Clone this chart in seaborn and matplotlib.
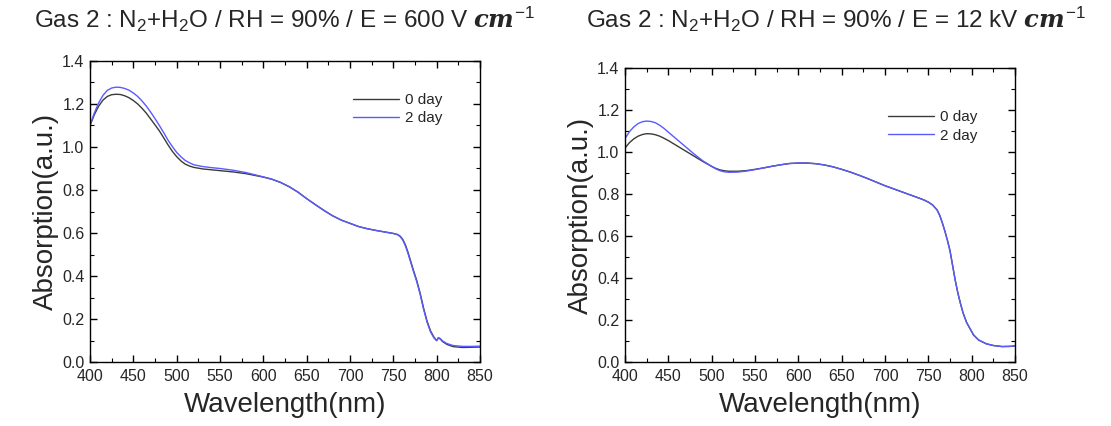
import pandas as pd
import seaborn as sns
import matplotlib.pyplot as plt
from matplotlib.ticker import MultipleLocator

# Panel 1 : E = 600 V cm-1
wl_600 = [400, 405, 410, 415, 420, 425, 430, 435, 440, 445, 450, 455, 460, 465, 470, 475,
          480, 485, 490, 495, 500, 505, 510, 515, 520, 530, 540, 550, 565, 580, 600, 610,
          620, 630, 640, 650, 660, 670, 680, 690, 700, 710, 720, 730, 740, 750, 755, 758,
          761, 764, 767, 770, 773, 777, 781, 785, 789, 793, 797, 800, 802, 804, 807, 812,
          819, 830, 840, 850]
abs_600_day0 = [1.10, 1.15, 1.19, 1.218, 1.235, 1.243, 1.245, 1.244, 1.238, 1.229, 1.216,
                1.20, 1.18, 1.157, 1.13, 1.103, 1.075, 1.043, 1.01, 0.98, 0.955, 0.935, 0.92,
                0.911, 0.905, 0.898, 0.894, 0.89, 0.884, 0.876, 0.86, 0.85, 0.835, 0.815, 0.79,
                0.76, 0.732, 0.705, 0.68, 0.66, 0.645, 0.63, 0.62, 0.612, 0.605, 0.598, 0.593,
                0.585, 0.57, 0.545, 0.51, 0.47, 0.43, 0.38, 0.32, 0.25, 0.19, 0.145, 0.115,
                0.10, 0.112, 0.108, 0.095, 0.082, 0.072, 0.068, 0.069, 0.07]
abs_600_day2 = [1.10, 1.158, 1.205, 1.24, 1.263, 1.274, 1.278, 1.277, 1.272, 1.264, 1.251,
                1.235, 1.214, 1.19, 1.162, 1.132, 1.10, 1.067, 1.032, 1.002, 0.975, 0.954,
                0.937, 0.926, 0.917, 0.909, 0.904, 0.90, 0.892, 0.881, 0.861, 0.85, 0.835,
                0.815, 0.79, 0.76, 0.732, 0.705, 0.68, 0.66, 0.645, 0.63, 0.62, 0.612, 0.605,
                0.598, 0.592, 0.583, 0.567, 0.54, 0.505, 0.465, 0.425, 0.375, 0.315, 0.245,
                0.185, 0.14, 0.112, 0.10, 0.114, 0.11, 0.098, 0.086, 0.077, 0.073, 0.073, 0.074]

# Panel 2 : E = 12 kV cm-1
wl_12k = [400, 405, 410, 415, 420, 425, 430, 435, 440, 445, 450, 460, 470, 480, 490, 500,
          505, 510, 515, 520, 530, 540, 550, 560, 570, 580, 590, 600, 610, 620, 630, 640,
          650, 660, 670, 680, 690, 700, 710, 720, 730, 740, 745, 750, 755, 760, 763, 766,
          769, 772, 775, 778, 781, 784, 787, 790, 794, 798, 802, 808, 817, 825, 835, 845, 850]
abs_12k_day0 = [1.02, 1.045, 1.063, 1.076, 1.084, 1.088, 1.087, 1.083, 1.076, 1.066, 1.055,
                1.03, 1.005, 0.98, 0.955, 0.932, 0.922, 0.915, 0.911, 0.909, 0.909, 0.912,
                0.918, 0.925, 0.933, 0.94, 0.946, 0.948, 0.948, 0.945, 0.939, 0.93, 0.918,
                0.905, 0.89, 0.874, 0.857, 0.84, 0.825, 0.81, 0.795, 0.78, 0.772, 0.762,
                0.748, 0.725, 0.70, 0.665, 0.625, 0.58, 0.53, 0.46, 0.39, 0.33, 0.28, 0.235,
                0.19, 0.16, 0.13, 0.105, 0.087, 0.079, 0.074, 0.075, 0.077]
abs_12k_day2 = [1.065, 1.097, 1.12, 1.136, 1.145, 1.148, 1.146, 1.14, 1.128, 1.113, 1.095,
                1.06, 1.025, 0.99, 0.958, 0.932, 0.92, 0.911, 0.906, 0.904, 0.905, 0.91,
                0.917, 0.925, 0.933, 0.94, 0.946, 0.948, 0.948, 0.945, 0.939, 0.93, 0.918,
                0.905, 0.89, 0.874, 0.857, 0.84, 0.825, 0.81, 0.795, 0.78, 0.772, 0.762,
                0.748, 0.725, 0.70, 0.665, 0.625, 0.58, 0.53, 0.46, 0.39, 0.33, 0.28, 0.235,
                0.19, 0.16, 0.13, 0.105, 0.087, 0.079, 0.074, 0.075, 0.077]

day_labels = ['0 day', '2 day']
colors = {'0 day': '#3a3a3a', '2 day': '#5a5aff'}
titles = ['Gas 2 : N$_2$+H$_2$O / RH = 90% / E = 600 V $cm^{-1}$',
          'Gas 2 : N$_2$+H$_2$O / RH = 90% / E = 12 kV $cm^{-1}$']

sns.set_style('ticks')
plt.rcParams['font.family'] = ['Liberation Sans', 'DejaVu Sans']
plt.rcParams['mathtext.fontset'] = 'custom'
plt.rcParams['mathtext.rm'] = 'Liberation Sans'
plt.rcParams['mathtext.it'] = 'DejaVu Serif:italic:bold'


def make_df(wl, a0, a2):
    d0 = pd.DataFrame({'wl': wl, 'abs': a0, 'day': day_labels[0]})
    d2 = pd.DataFrame({'wl': wl, 'abs': a2, 'day': day_labels[1]})
    return pd.concat([d0, d2], ignore_index=True)


def style_axis(ax):
    ax.set_xlim(400, 850)
    ax.set_ylim(0, 1.4)
    ax.xaxis.set_major_locator(MultipleLocator(50))
    ax.xaxis.set_minor_locator(MultipleLocator(25))
    ax.yaxis.set_major_locator(MultipleLocator(0.2))
    ax.yaxis.set_minor_locator(MultipleLocator(0.1))
    ax.tick_params(which='both', direction='in', top=True, right=True,
                   labelsize=11.5, color='black')
    ax.tick_params(which='major', length=5, width=1)
    ax.tick_params(axis='x', which='major', pad=5)
    ax.tick_params(axis='y', which='major', pad=4)
    ax.tick_params(which='minor', length=3, width=0.8)
    ax.set_yticklabels([f'{v:.1f}' for v in ax.get_yticks()])
    for s in ax.spines.values():
        s.set_color('black')
        s.set_linewidth(1)
    ax.set_xlabel('Wavelength(nm)', fontsize=20, labelpad=6)
    ax.set_ylabel('Absorption(a.u.)', fontsize=20, labelpad=2)


fig = plt.figure(figsize=(11.11, 4.26), dpi=100)
ax1 = fig.add_axes([0.081, 0.150, 0.351, 0.707])
ax2 = fig.add_axes([0.5626, 0.150, 0.351, 0.690])

df1 = make_df(wl_600, abs_600_day0, abs_600_day2)
df2 = make_df(wl_12k, abs_12k_day0, abs_12k_day2)

for ax, df, loc in [(ax1, df1, (0.64, 0.74)), (ax2, df2, (0.64, 0.70))]:
    sns.lineplot(data=df, x='wl', y='abs', hue='day', palette=colors,
                 linewidth=1.0, ax=ax, estimator=None, sort=True)
    style_axis(ax)
    leg = ax.legend(frameon=False, loc='lower left', bbox_to_anchor=loc,
                    fontsize=11, handlelength=3.0, handletextpad=0.4,
                    labelspacing=0.3)
    for line in leg.get_lines():
        line.set_linewidth(1.0)

fig.text(0.256, 0.955, titles[0], fontsize=17.5, ha='center', va='center')
fig.text(0.752, 0.955, titles[1], fontsize=17.5, ha='center', va='center')

fig.savefig('out.png', dpi=100)
